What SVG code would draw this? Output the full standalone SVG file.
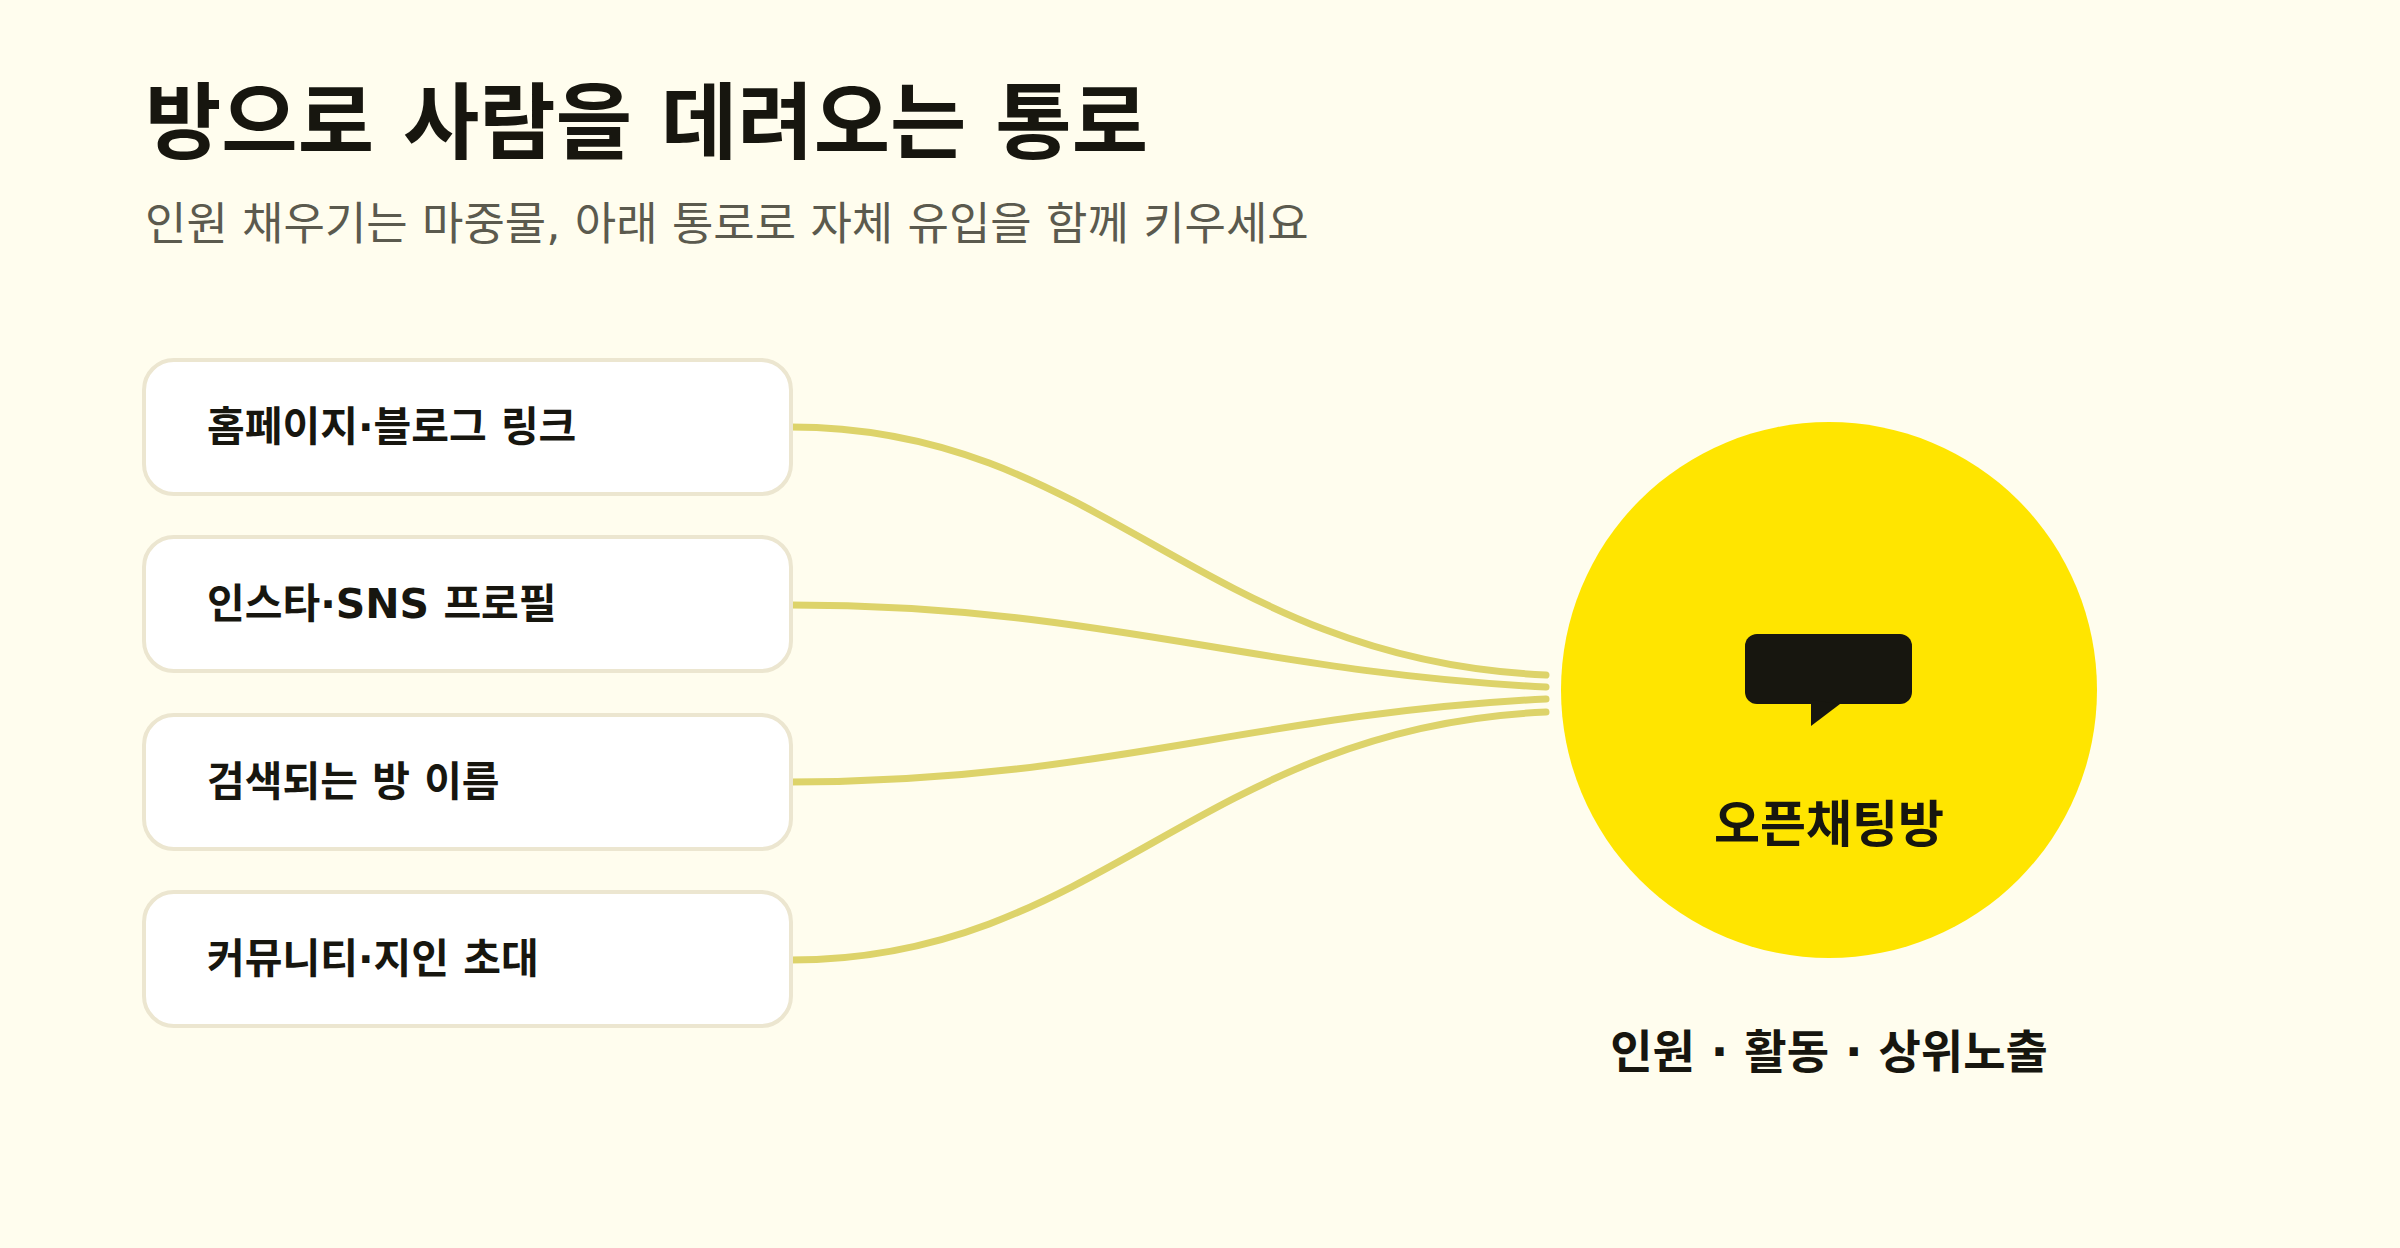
<svg xmlns="http://www.w3.org/2000/svg" width="2400" height="1248" viewBox="0 0 2400 1248">
<style>
.t{font-family:"DejaVu Sans","Noto Sans CJK KR",sans-serif}
.box{fill:#ffffff;stroke:#ece6d0;stroke-width:4}
.bl{font-size:41px;font-weight:700;fill:#17160f}
.c{fill:none;stroke:#ddd36a;stroke-width:7;stroke-linecap:round}
</style>
<rect width="2400" height="1248" fill="#fffdee"/>
<text class="t" x="145" y="152" font-size="83" font-weight="700" fill="#17160f">방으로 사람을 데려오는 통로</text>
<text class="t" x="145" y="240" font-size="45" fill="#5b5a4e">인원 채우기는 마중물, 아래 통로로 자체 유입을 함께 키우세요</text>
<g id="connectors">
<path class="c" d="M791 427 C1100 427 1200 660 1546 675"/>
<path class="c" d="M791 605 C1100 605 1250 672 1546 687"/>
<path class="c" d="M791 782 C1100 782 1250 714 1546 699"/>
<path class="c" d="M791 960 C1100 960 1200 727 1546 712"/>
</g>
<g id="n1"><rect class="box" x="144" y="360" width="647" height="134" rx="30"/><text class="t bl" x="207" y="441">홈페이지·블로그 링크</text></g>
<g id="n2"><rect class="box" x="144" y="537" width="647" height="134" rx="30"/><text class="t bl" x="207" y="618">인스타·SNS 프로필</text></g>
<g id="n3"><rect class="box" x="144" y="715" width="647" height="134" rx="30"/><text class="t bl" x="207" y="796">검색되는 방 이름</text></g>
<g id="n4"><rect class="box" x="144" y="892" width="647" height="134" rx="30"/><text class="t bl" x="207" y="973">커뮤니티·지인 초대</text></g>
<g id="hub">
<circle cx="1829" cy="690" r="268" fill="#ffe500"/>
<rect x="1745" y="634" width="167" height="70" rx="12" fill="#17160f"/>
<polygon points="1811,700 1811,726 1840,704" fill="#17160f"/>
<text class="t" x="1829" y="842" font-size="50" font-weight="700" fill="#17160f" text-anchor="middle">오픈채팅방</text>
</g>
<text class="t" x="1829" y="1068" font-size="46" font-weight="700" fill="#17160f" text-anchor="middle">인원 · 활동 · 상위노출</text>
</svg>
